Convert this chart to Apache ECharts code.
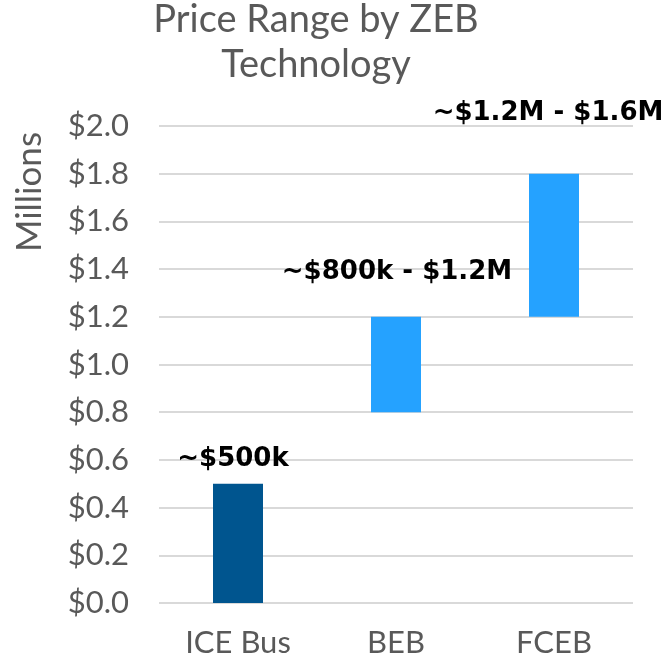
<!DOCTYPE html>
<html>
<head>
<meta charset="utf-8">
<script src="https://cdn.jsdelivr.net/npm/echarts@6/dist/echarts.min.js"></script>
<style>
  html, body { margin: 0; padding: 0; background: #fff; }
  #main { width: 665px; height: 658px; }
</style>
</head>
<body>
<div id="main"></div>
<script>
// --- data ---
var categories = ['ICE Bus', 'BEB', 'FCEB'];
var lowValues = [0, 0.8, 1.2];
var highValues = [0.5, 1.2, 1.8];
var rangeLabels = ['~$500k', '~$800k - $1.2M', '~$1.2M - $1.6M'];
var yTicks = ['$0.0', '$0.2', '$0.4', '$0.6', '$0.8', '$1.0', '$1.2', '$1.4', '$1.6', '$1.8', '$2.0'];

var barColors = ['#00558f', '#25a2ff', '#25a2ff'];
var labelShift = [[-5, -7], [1, -27], [-6, -42]];

var chart = echarts.init(document.getElementById('main'));

var rangeData = categories.map(function (c, i) {
    return {
        value: +(highValues[i] - lowValues[i]).toFixed(3),
        itemStyle: {color: barColors[i]},
        label: {offset: labelShift[i]}
    };
});

chart.setOption({
    backgroundColor: '#fff',
    animation: false,
    title: {
        text: 'Price Range by ZEB\nTechnology',
        left: 316,
        textAlign: 'center',
        top: -3,
        padding: 0,
        textStyle: {
            fontFamily: 'Lato',
            fontWeight: 'normal',
            fontSize: 38,
            lineHeight: 45,
            color: '#595959'
        }
    },
    graphic: [{
        type: 'text',
        x: 30,
        y: 192,
        rotation: Math.PI / 2,
        style: {
            text: 'Millions',
            fontFamily: 'Lato',
            fontSize: 35,
            fill: '#595959',
            textAlign: 'center',
            textVerticalAlign: 'middle'
        }
    }],
    grid: {left: 159, right: 32, top: 126, bottom: 55},
    xAxis: {
        type: 'category',
        data: categories,
        axisLine: {show: false},
        axisTick: {show: false},
        axisLabel: {
            fontFamily: 'Lato',
            fontSize: 31,
            color: '#595959',
            margin: 24
        }
    },
    yAxis: {
        type: 'value',
        min: 0,
        max: 2,
        interval: 0.2,
        axisLine: {show: false},
        axisTick: {show: false},
        splitLine: {lineStyle: {color: '#d9d9d9', width: 2}},
        axisLabel: {
            fontFamily: 'Lato',
            fontSize: 31,
            color: '#595959',
            margin: 30,
            formatter: function (v) {
                return yTicks[Math.round(v / 0.2)];
            }
        }
    },
    series: [
        {
            name: 'base',
            type: 'bar',
            stack: 'range',
            data: lowValues,
            barWidth: 50,
            itemStyle: {color: 'transparent'},
            silent: true
        },
        {
            name: 'range',
            type: 'bar',
            stack: 'range',
            data: rangeData,
            barWidth: 50,
            label: {
                show: true,
                position: 'top',
                distance: 5,
                fontFamily: 'DejaVu Sans',
                fontWeight: 'bold',
                fontSize: 26,
                color: '#000',
                formatter: function (p) {
                    return rangeLabels[p.dataIndex];
                }
            }
        }
    ]
});
</script>
</body>
</html>
